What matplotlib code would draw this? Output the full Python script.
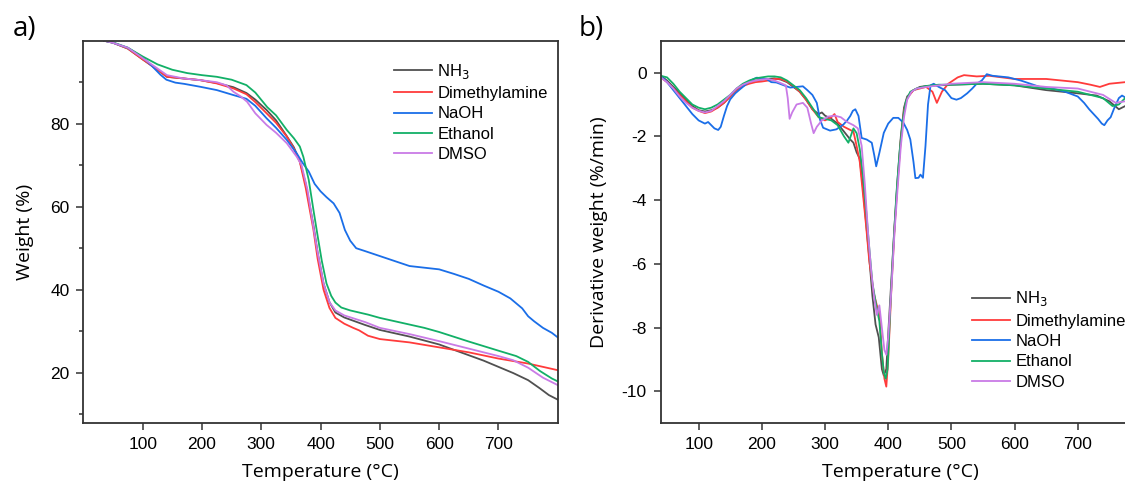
import matplotlib
matplotlib.use('Agg')
import matplotlib.pyplot as plt

plt.rcParams['axes.unicode_minus'] = False
plt.rcParams['font.family'] = ['Liberation Sans', 'DejaVu Sans']

names = ['NH$_3$', 'Dimethylamine', 'NaOH', 'Ethanol', 'DMSO']
colors = ['#505050', '#ff3b3b', '#1a6ee8', '#12b067', '#c97be6']

# ---- a) TGA weight (%) ----
t_nh3_a = [35, 50, 75, 100, 125, 141, 169, 197, 225, 253, 275, 290, 309, 325, 343, 355, 365, 375, 388, 395,
           405, 415, 425, 440, 475, 500, 550, 600, 625, 650, 675, 700, 725, 750, 770, 785, 800]
w_nh3 = [100, 99.5, 98.1, 95.5, 93.0, 91.3, 90.9, 90.5, 89.8, 88.8, 87.4, 85.8, 83.3, 80.8, 77.0, 74.3, 71.0, 65.5, 55.5, 49.0,
         41.5, 37.0, 34.5, 33.3, 31.5, 30.3, 28.7, 26.8, 25.5, 24.2, 22.9, 21.4, 19.9, 18.2, 16.2, 14.6, 13.5]

t_dma_a = [35, 50, 75, 100, 125, 141, 169, 197, 225, 253, 275, 290, 309, 325, 343, 355, 365, 375, 388, 395,
           405, 415, 425, 440, 455, 465, 480, 500, 550, 600, 650, 700, 750, 800]
w_dma = [100, 99.5, 98.1, 95.5, 93.0, 91.3, 90.9, 90.5, 89.7, 88.5, 87.1, 85.2, 82.5, 80.2, 76.9, 74.0, 70.8, 64.5, 54.4, 47.5,
         40.0, 35.6, 33.2, 31.8, 30.8, 30.2, 28.9, 28.1, 27.3, 26.1, 24.9, 23.4, 22.2, 20.6]

t_naoh_a = [35, 50, 75, 100, 115, 130, 140, 155, 170, 197, 225, 253, 275, 290, 309, 325, 343, 360, 370, 380,
            390, 400, 410, 422, 432, 441, 450, 460, 475, 500, 525, 550, 575, 600, 625, 650, 675, 700, 720, 740,
            750, 760, 775, 790, 800]
w_naoh = [100, 99.5, 98.3, 96.0, 94.0, 91.8, 90.6, 89.9, 89.6, 88.9, 88.1, 86.9, 86.0, 84.3, 81.3, 79.0, 76.1, 72.8, 70.5, 68.5,
          65.5, 63.7, 62.3, 60.8, 58.5, 54.4, 51.8, 50.0, 49.3, 48.1, 46.9, 45.7, 45.3, 44.9, 43.8, 42.6, 41.0, 39.5, 37.9, 35.5,
          33.6, 32.4, 30.8, 29.6, 28.5]

t_eth_a = [35, 50, 75, 100, 125, 150, 175, 200, 225, 250, 275, 290, 310, 325, 343, 355, 365, 371, 380, 388,
           395, 402, 410, 418, 425, 435, 450, 480, 500, 550, 575, 600, 650, 700, 730, 750, 770, 790, 800]
w_eth = [100, 99.6, 98.3, 96.2, 94.3, 93.0, 92.2, 91.7, 91.3, 90.6, 89.3, 87.5, 84.0, 82.0, 78.5, 76.5, 74.5, 72.0, 66.5, 59.2,
         53.0, 47.0, 41.5, 38.5, 36.9, 35.7, 35.0, 34.0, 33.2, 31.6, 30.8, 29.8, 27.5, 25.3, 24.0, 22.6, 20.4, 18.6, 17.9]

t_dmso_a = [35, 50, 75, 100, 125, 141, 169, 197, 225, 242, 253, 265, 276, 290, 309, 325, 343, 360, 368, 378,
            388, 395, 405, 415, 425, 440, 475, 500, 550, 600, 650, 700, 725, 750, 775, 800]
w_dmso = [100, 99.5, 98.3, 95.8, 93.3, 91.7, 90.9, 90.5, 90.0, 89.2, 87.7, 86.6, 85.3, 82.5, 79.7, 77.8, 75.3, 72.0, 70.0, 64.0,
          55.0, 49.0, 41.5, 37.0, 35.0, 33.8, 32.2, 30.8, 29.3, 27.6, 25.8, 24.0, 23.0, 21.2, 18.8, 17.0]

# ---- b) DTG derivative weight (%/min) ----
t_nh3_b = [40, 50, 60, 70, 80, 90, 100, 110, 120, 130, 140, 150, 160, 170, 180, 190, 200, 210, 220, 230,
           240, 250, 260, 270, 280, 290, 295, 300, 310, 320, 330, 340, 345, 350, 355, 360, 365, 370, 375, 380,
           385, 390, 393, 397, 400, 405, 410, 415, 420, 425, 430, 440, 450, 460, 480, 500, 550, 600, 650, 700,
           730, 750, 765, 775]
d_nh3 = [-0.1, -0.25, -0.45, -0.65, -0.85, -1.05, -1.18, -1.22, -1.18, -1.1, -0.95, -0.75, -0.55, -0.4, -0.3, -0.25, -0.22, -0.2, -0.18, -0.22,
         -0.3, -0.45, -0.6, -0.85, -1.15, -1.3, -1.25, -1.35, -1.45, -1.6, -1.85, -2.1, -2.2, -2.5, -2.7, -3.6, -4.7, -5.8, -7.0, -7.9,
         -8.3, -9.3, -9.5, -9.3, -8.2, -6.5, -4.8, -3.3, -2.0, -1.1, -0.75, -0.55, -0.45, -0.42, -0.4, -0.38, -0.35, -0.4, -0.55, -0.65,
         -0.72, -0.9, -1.15, -1.05]

t_dma_b = [40, 50, 60, 70, 80, 90, 100, 110, 120, 130, 140, 150, 160, 170, 180, 190, 200, 210, 220, 230,
           240, 250, 260, 270, 280, 290, 300, 310, 315, 320, 330, 340, 345, 350, 355, 360, 365, 370, 377, 382,
           386, 390, 394, 397, 400, 405, 410, 415, 420, 425, 430, 440, 450, 460, 470, 477, 485, 495, 510, 520,
           540, 560, 600, 650, 700, 720, 735, 750, 775]
d_dma = [-0.15, -0.3, -0.5, -0.7, -0.9, -1.1, -1.2, -1.27, -1.22, -1.1, -0.95, -0.75, -0.55, -0.42, -0.35, -0.3, -0.28, -0.25, -0.2, -0.2,
         -0.28, -0.42, -0.6, -0.85, -1.15, -1.4, -1.5, -1.4, -1.3, -1.55, -1.7, -1.8, -1.85, -2.3, -2.8, -3.8, -4.8, -5.9, -6.9, -7.3,
         -7.5, -8.8, -9.6, -9.85, -9.0, -6.8, -4.9, -3.4, -2.1, -1.2, -0.8, -0.55, -0.5, -0.45, -0.6, -0.95, -0.6, -0.35, -0.15, -0.08,
         -0.12, -0.1, -0.2, -0.2, -0.3, -0.38, -0.45, -0.35, -0.3]

t_naoh_b = [40, 50, 60, 70, 80, 90, 100, 110, 115, 120, 125, 131, 135, 140, 145, 150, 158, 165, 173, 181,
            192, 200, 208, 215, 223, 235, 245, 255, 265, 272, 280, 287, 292, 297, 308, 318, 329, 335, 340, 344,
            348, 353, 358, 366, 374, 378, 381, 386, 393, 400, 408, 416, 424, 430, 435, 440, 443, 448, 451, 455,
            459, 463, 467, 472, 480, 490, 500, 508, 515, 525, 533, 540, 548, 556, 565, 575, 590, 610, 625, 640,
            660, 680, 700, 710, 718, 725, 732, 738, 742, 747, 752, 758, 765, 770, 775]
d_naoh = [-0.1, -0.3, -0.55, -0.8, -1.05, -1.3, -1.5, -1.6, -1.55, -1.65, -1.75, -1.8, -1.7, -1.36, -1.05, -0.84, -0.65, -0.53, -0.4, -0.26,
          -0.16, -0.18, -0.21, -0.3, -0.31, -0.4, -0.47, -0.45, -0.43, -0.55, -0.7, -0.95, -1.47, -1.73, -1.82, -1.78, -1.63, -1.5, -1.36, -1.2,
          -1.15, -1.36, -2.05, -2.1, -2.2, -2.6, -2.94, -2.52, -1.89, -1.6, -1.42, -1.42, -1.57, -1.8, -2.1, -2.8, -3.31, -3.3, -3.2, -3.3,
          -2.3, -1.0, -0.4, -0.35, -0.45, -0.55, -0.8, -0.85, -0.8, -0.65, -0.5, -0.35, -0.25, -0.05, -0.1, -0.12, -0.15, -0.25, -0.35, -0.45,
          -0.5, -0.6, -0.75, -0.95, -1.15, -1.3, -1.45, -1.6, -1.65, -1.5, -1.4, -1.1, -0.8, -0.72, -0.78]

t_eth_b = [40, 50, 60, 70, 80, 90, 100, 110, 120, 130, 140, 150, 160, 170, 180, 190, 200, 210, 220, 230,
           240, 250, 260, 270, 280, 290, 300, 310, 320, 330, 337, 345, 350, 355, 360, 365, 370, 375, 381, 386,
           390, 393, 396, 399, 403, 408, 413, 418, 423, 428, 435, 445, 460, 480, 500, 550, 600, 650, 700, 740,
           755, 765, 775]
d_eth = [-0.1, -0.15, -0.35, -0.6, -0.8, -1.0, -1.1, -1.15, -1.1, -1.0, -0.85, -0.7, -0.5, -0.35, -0.25, -0.18, -0.15, -0.12, -0.12, -0.15,
         -0.25, -0.4, -0.55, -0.8, -1.1, -1.4, -1.45, -1.5, -1.65, -2.0, -2.2, -1.75, -1.9, -2.4, -3.2, -4.3, -5.5, -6.6, -7.3, -7.8,
         -8.8, -9.4, -9.6, -9.3, -7.5, -5.5, -3.8, -2.5, -1.5, -0.9, -0.6, -0.5, -0.42, -0.38, -0.38, -0.35, -0.4, -0.5, -0.6, -0.8,
         -1.05, -1.0, -0.8]

t_dmso_b = [40, 50, 60, 70, 80, 90, 100, 110, 120, 130, 140, 150, 160, 170, 180, 190, 200, 210, 220, 230,
            238, 241, 244, 248, 255, 265, 272, 278, 282, 287, 295, 305, 315, 325, 335, 345, 352, 358, 363, 368,
            373, 378, 382, 386, 390, 394, 397, 400, 405, 410, 415, 420, 425, 430, 437, 445, 460, 480, 500, 550,
            600, 650, 700, 740, 760, 775]
d_dmso = [-0.15, -0.3, -0.5, -0.75, -0.95, -1.1, -1.2, -1.25, -1.2, -1.05, -0.9, -0.7, -0.5, -0.38, -0.3, -0.25, -0.22, -0.2, -0.25, -0.33,
          -0.4, -0.8, -1.45, -1.25, -1.0, -0.95, -1.1, -1.6, -1.9, -1.7, -1.5, -1.38, -1.35, -1.4, -1.55, -1.65, -1.75, -2.3, -3.5, -5.0,
          -6.2, -7.1, -7.6, -7.3, -8.0, -8.7, -8.85, -8.3, -6.8, -5.0, -3.6, -2.3, -1.4, -0.85, -0.6, -0.5, -0.45, -0.4, -0.35, -0.3,
          -0.35, -0.45, -0.5, -0.7, -0.95, -0.9]

series_a = [(t_nh3_a, w_nh3), (t_dma_a, w_dma), (t_naoh_a, w_naoh), (t_eth_a, w_eth), (t_dmso_a, w_dmso)]
series_b = [(t_nh3_b, d_nh3), (t_dma_b, d_dma), (t_naoh_b, d_naoh), (t_eth_b, d_eth), (t_dmso_b, d_dmso)]

fig = plt.figure(figsize=(11.25, 4.84), dpi=100)
ax1 = fig.add_axes([0.0741, 0.1254, 0.4217, 0.7905])
ax2 = fig.add_axes([0.5873, 0.1254, 0.4269, 0.7905])

for (t, v), c, n in zip(series_a, colors, names):
    ax1.plot(t, v, color=c, lw=1.3, label=n)
for (t, v), c, n in zip(series_b, colors, names):
    ax2.plot(t, v, color=c, lw=1.3, label=n)

label_font = dict(family=['Open Sans', 'DejaVu Sans'], fontsize=14)

ax1.set_xlim(0, 800)
ax1.set_ylim(7.8, 100)
ax1.set_xticks([100, 200, 300, 400, 500, 600, 700])
ax1.set_yticks([20, 40, 60, 80])
ax1.set_yticks([10, 30, 50, 70, 90], minor=True)
ax1.set_xlabel('Temperature (°C)', labelpad=8, **label_font)
ax1.set_ylabel('Weight (%)', labelpad=12, **label_font)

ax2.set_xlim(40, 800)
ax2.set_ylim(-11, 1)
ax2.set_xticks([100, 200, 300, 400, 500, 600, 700])
ax2.set_yticks([0, -2, -4, -6, -8, -10])
ax2.set_xlabel('Temperature (°C)', labelpad=8, **label_font)
ax2.set_ylabel('Derivative weight (%/min)', labelpad=10, **label_font)

for ax in (ax1, ax2):
    for s in ax.spines.values():
        s.set_linewidth(1.3)
        s.set_color('#333333')
    ax.tick_params(which='major', direction='out', length=5, width=1.1, labelsize=12.5,
                   pad=5, color='#333333')
    ax.tick_params(which='minor', direction='out', length=3, width=1.1, color='#333333')

leg1 = ax1.legend(loc='upper left', bbox_to_anchor=(0.655, 0.945), frameon=False, fontsize=12,
                  handlelength=2.3, handletextpad=0.3, labelspacing=0.32, borderpad=0, borderaxespad=0)
leg2 = ax2.legend(loc='upper left', bbox_to_anchor=(0.648, 0.35), frameon=False, fontsize=12,
                  handlelength=2.3, handletextpad=0.3, labelspacing=0.32, borderpad=0, borderaxespad=0)

fig.text(0.011, 0.94, 'a)', family=['Open Sans', 'DejaVu Sans'], fontsize=20, va='center')
fig.text(0.514, 0.94, 'b)', family=['Open Sans', 'DejaVu Sans'], fontsize=20, va='center')

fig.savefig('out.png', dpi=100)
